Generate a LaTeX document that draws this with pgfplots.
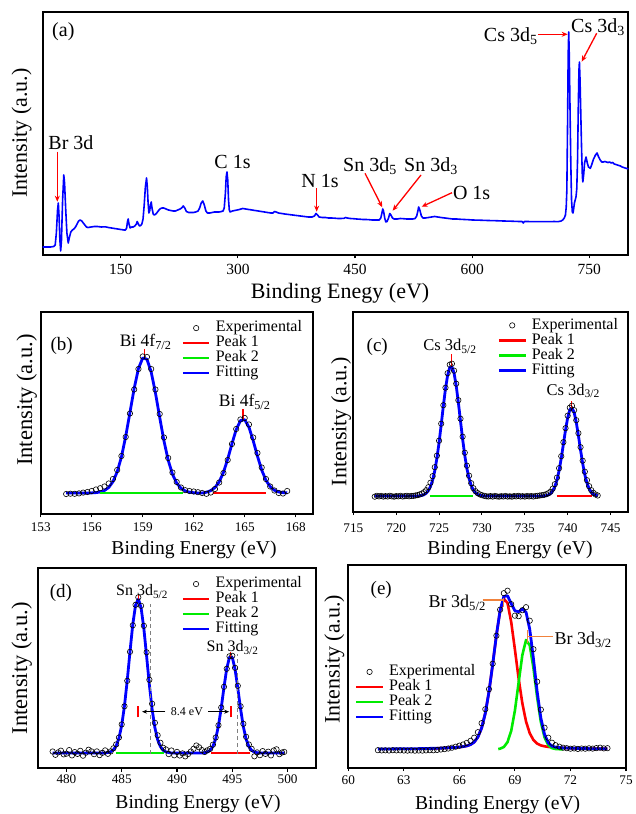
\documentclass[border=0pt]{standalone}
\usepackage{fontspec}
\setmainfont{Liberation Serif}
\usepackage{pgfplots}
\pgfplotsset{compat=1.18}
\usetikzlibrary{arrows.meta}
\definecolor{pred}{RGB}{255,0,0}
\definecolor{pgreen}{RGB}{0,235,0}
\definecolor{pblue}{RGB}{0,0,255}
\definecolor{porange}{RGB}{240,130,60}
\newcommand\fs[1]{\fontsize{#1}{#1}\selectfont}
\pgfplotsset{
 panel/.style={scale only axis, anchor=south west, clip=false, ymin=0,
   axis line style={line width=1.8pt}, ytick=\empty, xtick pos=left, tick align=outside,
   major tick length=3.5pt, every tick/.style={black, line width=1.1pt},
   /pgf/number format/assume math mode=true,
   xticklabel style={anchor=center},
   xlabel style={anchor=center}, ylabel style={anchor=center}},
 leg/.style={legend cell align=left,
   legend style={draw=none, fill=none, inner sep=0pt, outer sep=0pt, anchor=north west,
     font=\fs{16}, row sep=0pt,
     nodes={inner sep=0pt, text height=11.4pt, text depth=3.6pt},
     /tikz/every odd column/.style={column sep=5pt}},
   legend image code/.code={\draw[mark repeat=2,mark phase=2,##1] plot coordinates {(0pt,0pt) (13.3pt,0pt) (26.6pt,0pt)};}},
 expt/.style={only marks, mark=o, mark size=2.7pt, black, mark options={line width=0.6pt}},
 fitline/.style={pblue, line width=2.8pt, line join=round},
}
\newcommand\stdlegend{%
 \addlegendimage{expt}\addlegendentry{Experimental}
 \addlegendimage{pred, line width=2.6pt}\addlegendentry{Peak 1}
 \addlegendimage{pgreen, line width=2.6pt}\addlegendentry{Peak 2}
 \addlegendimage{pblue, line width=2.6pt}\addlegendentry{Fitting}}
\begin{document}
\begin{tikzpicture}
\path[use as bounding box] (0,0) rectangle (636pt,814pt);
% ---------------- (a)
\begin{axis}[panel, at={(42.7pt,559pt)}, width=585.6pt, height=243.3pt,
  xmin=50, xmax=800, ymax=243.3, xtick={150,300,450,600,750},
  xticklabel style={font=\fs{15.5}, yshift=-11pt},
  xlabel={Binding Enegy (eV)}, xlabel style={at={(axis description cs:0.5077,-0.156)}, font=\fs{22}},
  ylabel={Intensity (a.u.)}, ylabel style={at={(axis description cs:-0.0359,0.5014)}, font=\fs{22}}]
\addplot[pblue, line width=1.6pt, line join=round] coordinates {
(50,8)(55,8)(60,8)(64,8.5)(66,10)(67.5,22)(69,45)(70,52)(71,38)(72,15)(73,4)(74,14)(75.5,55)(77,80)(78,72)(79.5,45)(81,22)(82.7,12)(84,17)(86,23)(88,25)(90,26)(92,28)(94,31)(96,34)(98,35)(100,34)(102,32)(104,30)(106,28)(108,27.5)(112,28)(116,28.5)(120,28.5)(125,28)(130,28.2)(134,27.5)(138,27)(142,26.5)(146,26)(150,25.5)(154,25)(156,25)(157.5,27)(158.5,33)(159.5,36)(160.5,31)(162,27)(164,28)(166,28)(168,29)(170,31)(171,33.5)(172.5,31)(174,29)(175.5,29.5)(177,31)(178.5,36)(180,50)(181.5,68)(183,77)(184,68)(185,52)(186,42)(187,44)(188,50)(189,53)(190,47)(191.5,41)(193,40)(195,41)(197,43)(199,45)(201,46.5)(203,47)(205,47)(208,46)(211,45)(214,44.5)(217,44)(220,44)(223,45)(226,46)(228,47)(230,49)(232,47)(234,43.5)(237,42.5)(240,42.5)(243,42.5)(246,43)(249,44)(251,47)(253,52)(255,54)(257,50)(259,44)(261,42)(264,42)(267,42.5)(270,43)(273,43)(276,43)(279,43.5)(281,44)(282.5,47)(284,62)(285,78)(286,83)(287,75)(288,55)(289,45)(290,43)(293,44)(296,44.5)(299,45)(302,45.5)(306,46.5)(310,46)(314,45.5)(318,45)(322,44.5)(326,44)(330,43.5)(334,43)(338,42.5)(342,42)(345,42)(347,43.5)(349,43)(352,42)(356,41.5)(360,41)(365,40.5)(370,40)(375,39.5)(380,39)(385,38.5)(390,38)(395,38)(398,39)(400,41.5)(402,40)(404,38)(408,37.5)(412,37.5)(416,37)(420,37)(424,36.8)(428,36.5)(432,36.5)(436,36.7)(438,37.5)(440,37)(444,36.5)(448,36.3)(452,36)(456,35.8)(460,35.5)(464,35.5)(468,35.3)(472,35)(476,35)(479,35)(481,35)(483,37)(484.5,42)(485.5,46)(486.5,44)(488,37)(489.5,33)(491,33.5)(493,37)(494.5,41.5)(496,40)(498,37)(500,36)(504,36)(508,36.5)(512,36.3)(516,36)(520,36)(524,36)(527,36.5)(529,39)(530.5,44)(531.5,48)(533,45)(535,39)(537,37)(540,37)(544,37.5)(548,38)(552,38.5)(556,38)(560,37.5)(565,37)(570,36.5)(575,36)(580,36)(585,35.7)(590,35.5)(595,35.3)(600,35)(610,34.8)(620,34.5)(630,34.3)(640,34)(650,33.8)(660,33.5)(664,33.5)(665.5,32)(667,33.5)(670,33.5)(680,33.3)(690,33.3)(700,33.3)(705,33.5)(710,33.3)(714,34)(716,35)(718,37)(719.5,40)(720.5,48)(721.3,65)(722.2,130)(723,200)(723.7,223)(724.4,200)(725.3,150)(726.3,95)(727.3,55)(728.3,43)(729.2,42)(730,46)(731,52)(732,55)(733,58)(734,66)(735,95)(736,150)(736.8,185)(737.4,193)(738.2,175)(739.2,140)(740.2,105)(741.2,78)(741.8,73)(742.8,80)(744,92)(745.9,98)(747.5,92)(749,88)(751.4,86.7)(753,90)(755.5,96)(758,100)(760,102)(762,98)(764,95)(766,93)(768,93)(770,93.5)(772,93)(774,92.5)(776,93)(778,92)(780,92.5)(782,91)(784,90.5)(786,90)(788,89.5)(790,89)(792,88)(794,87.5)(796,87)(798,86.5)(800,86)};
\begin{scope}[font=\fs{20}]
\node[anchor=base] at (axis cs:76.4,218) {(a)};
\node[anchor=base] at (axis cs:86.2,105.4) {Br 3d};
\node[anchor=base] at (axis cs:293.1,86.7) {C 1s};
\node[anchor=base] at (axis cs:405.1,67.4) {N 1s};
\node[anchor=base] at (axis cs:469.2,83.4) {Sn 3d\textsubscript{5}};
\node[anchor=base] at (axis cs:547.3,83.4) {Sn 3d\textsubscript{3}};
\node[anchor=base] at (axis cs:599.4,55.7) {O 1s};
\node[anchor=base] at (axis cs:649.5,213.4) {Cs 3d\textsubscript{5}};
\node[anchor=base] at (axis cs:761.2,222.4) {Cs 3d\textsubscript{3}};
\end{scope}
\begin{scope}[pred, line width=1.3pt, -{Stealth[length=6pt,width=5pt]}]
\draw (axis cs:68.7,103.3) -- (axis cs:68.7,53.3);
\draw (axis cs:400.9,66.7) -- (axis cs:400.9,43.3);
\draw (axis cs:462.8,81.7) -- (axis cs:484.9,47.7);
\draw (axis cs:534.5,80) -- (axis cs:498.2,44.3);
\draw (axis cs:574.2,62.3) -- (axis cs:535.4,48.3);
\draw (axis cs:684.7,220.7) -- (axis cs:722.4,220.7);
\draw (axis cs:759.5,221.7) -- (axis cs:740.3,193.3);
\end{scope}
\end{axis}
% ---------------- (b)
\begin{axis}[panel, leg, at={(40.7pt,300pt)}, width=272pt, height=202.3pt,
  xmin=153, xmax=169, ymax=202.3, xtick={153,156,...,168},
  xticklabel style={font=\fs{13.2}, yshift=-9.3pt},
  xlabel={Binding Energy (eV)}, xlabel style={at={(axis description cs:0.5636,-0.178)}, font=\fs{19.6}},
  ylabel={Intensity (a.u.)}, ylabel style={at={(axis description cs:-0.0515,0.5635)}, font=\fs{22.5}},
  legend style={at={(0.518,0.956)}}]
\stdlegend
\addplot[expt, forget plot] coordinates {
(154.5,20.0)(154.75,20.3)(155.0,20.2)(155.25,20.6)(155.5,21.4)(155.75,22.0)(156.0,23.0)(156.25,24.5)(156.5,25.8)(156.75,27.5)(157.0,30.5)(157.25,35.0)(157.5,44.0)(157.75,58.0)(158.0,77.0)(158.25,100.5)(158.5,124.5)(158.75,145.0)(159.0,157.5)(159.25,157.0)(159.5,145.0)(159.75,124.5)(160.0,100.0)(160.25,76.5)(160.5,56.0)(160.75,41.5)(161.0,32.0)(161.25,26.5)(161.5,23.8)(161.75,23.0)(162.0,22.5)(162.25,21.8)(162.5,21.0)(162.75,20.2)(163.0,21.5)(163.25,25.0)(163.5,31.5)(163.75,41.0)(164.0,54.0)(164.25,70.0)(164.5,85.0)(164.75,94.5)(165.0,96.0)(165.25,89.5)(165.5,76.5)(165.75,61.0)(166.0,46.5)(166.25,35.0)(166.5,27.5)(166.75,23.5)(167.0,21.0)(167.25,20.5)(167.5,23.0)};
\addplot[fitline, forget plot] coordinates {
(154.5,21)(155.75,21)(156.0,21.1)(156.25,21.4)(156.5,22.0)(156.75,23.5)(157.0,26.5)(157.25,32.3)(157.5,42.2)(157.75,57.1)(158.0,77.6)(158.25,101.5)(158.5,125.7)(158.75,145.4)(159.0,156.0)(159.25,154.8)(159.5,142.0)(159.75,121.1)(160.0,96.6)(160.25,73.1)(160.5,53.8)(160.75,39.8)(161.0,30.9)(161.25,25.8)(161.5,23.1)(161.75,21.8)(162.0,21.3)(162.25,21)(162.5,21)(162.75,21.8)(163.0,23.3)(163.25,26.4)(163.5,32.2)(163.75,41.6)(164.0,54.9)(164.25,70.2)(164.5,84.4)(164.75,93.4)(165.0,94.3)(165.25,86.8)(165.5,73.3)(165.75,57.9)(166.0,44.0)(166.25,33.7)(166.5,27.3)(166.75,23.7)(167.0,22.0)(167.25,21.4)(167.5,21.1)};
\addplot[pgreen, line width=2.6pt, forget plot] coordinates {(156.48,21)(161.38,21)};
\addplot[pred, line width=2.6pt, forget plot] coordinates {(163.14,21)(166.28,21)};
\draw[pred, line width=1.1pt] (axis cs:159.1,156) -- (axis cs:159.1,165);
\draw[pred, line width=1.1pt] (axis cs:164.9,95) -- (axis cs:164.9,105);
\node[anchor=base, font=\fs{17.5}] at (axis cs:159.17,167) {Bi 4f\textsubscript{7/2}};
\node[anchor=base, font=\fs{17.5}] at (axis cs:165.0,107.5) {Bi 4f\textsubscript{5/2}};
\node[anchor=base, font=\fs{19}] at (axis cs:154.23,163.5) {(b)};
\end{axis}
% ---------------- (c)
\begin{axis}[panel, leg, at={(353.3pt,302.3pt)}, width=274.4pt, height=200pt,
  xmin=715, xmax=747, ymax=200, xtick={715,720,...,745},
  xticklabel style={font=\fs{13.2}, yshift=-12.6pt},
  xlabel={Binding Energy (eV)}, xlabel style={at={(axis description cs:0.571,-0.1915)}, font=\fs{19.6}},
  ylabel={Intensity (a.u.)}, ylabel style={at={(axis description cs:-0.0448,0.45)}, font=\fs{22}},
  legend style={at={(0.526,0.969)}}]
\stdlegend
\addplot[expt, forget plot] coordinates {
(717.5,15.0)(717.75,15.9)(718.0,15.3)(718.25,15.8)(718.5,15.1)(718.75,15.6)(719.0,15.2)(719.25,15.9)(719.5,15.4)(719.75,15.0)(720.0,15.6)(720.25,15.3)(720.5,15.8)(720.75,15.2)(721.0,15.5)(721.25,15.9)(721.5,15.4)(721.75,15.7)(722.0,15.8)(722.25,16.2)(722.5,16.6)(722.75,17.3)(723.0,18.2)(723.25,19.5)(723.5,21.5)(723.75,24.5)(724.0,29.0)(724.25,35.5)(724.5,44.5)(724.75,56.0)(725.0,71.0)(725.25,88.0)(725.5,106.5)(725.75,124.0)(726.0,138.5)(726.25,147.0)(726.5,148.0)(726.75,141.0)(727.0,128.0)(727.25,111.5)(727.5,93.0)(727.75,75.0)(728.0,59.0)(728.25,46.0)(728.5,36.0)(728.75,28.5)(729.0,23.5)(729.25,20.5)(729.5,18.6)(729.75,17.3)(730.0,16.5)(730.25,15.9)(730.5,15.4)(730.75,15.2)(731.0,15.6)(731.25,15.1)(731.5,15.7)(731.75,15.3)(732.0,15.0)(732.25,15.5)(732.5,15.2)(732.75,15.7)(733.0,15.1)(733.25,15.4)(733.5,15.0)(733.75,15.6)(734.0,15.3)(734.25,15.8)(734.5,15.2)(734.75,15.5)(735.0,15.1)(735.25,15.7)(735.5,15.3)(735.75,15.6)(736.0,15.2)(736.25,15.7)(736.5,15.9)(736.75,16.2)(737.0,16.5)(737.25,16.9)(737.5,17.5)(737.75,18.5)(738.0,20.0)(738.25,23.0)(738.5,27.5)(738.75,34.0)(739.0,43.5)(739.25,55.5)(739.5,69.5)(739.75,83.5)(740.0,96.0)(740.25,104.0)(740.5,106.0)(740.75,101.5)(741.0,91.5)(741.25,78.5)(741.5,64.5)(741.75,51.0)(742.0,40.0)(742.25,31.5)(742.5,25.5)(742.75,21.5)(743.0,18.8)(743.25,17.2)(743.5,16.2)};
\addplot[fitline, forget plot] coordinates {
(717.5,15.6)(722.5,15.6)(722.75,15.9)(723.0,16.3)(723.25,17.0)(723.5,18.5)(723.75,21.0)(724.0,25.1)(724.25,31.6)(724.5,40.9)(724.75,53.4)(725.0,69.0)(725.25,86.9)(725.5,105.7)(725.75,122.9)(726.0,136.5)(726.25,144.3)(726.5,145.0)(726.75,138.6)(727.0,126.0)(727.25,109.3)(727.5,90.7)(727.75,72.5)(728.0,56.3)(728.25,43.1)(728.5,33.2)(728.75,26.2)(729.0,21.7)(729.25,18.9)(729.5,17.3)(729.75,16.4)(730.0,16.0)(730.25,15.8)(730.5,15.6)(736.75,15.6)(737.0,15.7)(737.25,15.8)(737.5,16.1)(737.75,16.8)(738.0,18.1)(738.25,20.7)(738.5,25.0)(738.75,31.6)(739.0,41.1)(739.25,53.4)(739.5,67.5)(739.75,81.8)(740.0,94.0)(740.25,101.9)(740.5,103.9)(740.75,99.4)(741.0,89.5)(741.25,76.2)(741.5,61.7)(741.75,48.2)(742.0,37.0)(742.25,28.6)(742.5,23.0)(742.75,19.5)(743.0,17.5)(743.25,16.5)(743.5,16.0)};
\addplot[pgreen, line width=2.6pt, forget plot] coordinates {(723.9,15.6)(729.0,15.6)};
\addplot[pred, line width=2.6pt, forget plot] coordinates {(738.7,15.6)(742.8,15.6)};
\draw[pred, line width=1.1pt] (axis cs:726.4,145.6) -- (axis cs:726.4,157.3);
\draw[pred, line width=1.1pt] (axis cs:740.45,104) -- (axis cs:740.45,111);
\node[anchor=base, font=\fs{16.5}] at (axis cs:726.27,161) {Cs 3d\textsubscript{5/2}};
\node[anchor=base, font=\fs{16.5}] at (axis cs:740.65,116.3) {Cs 3d\textsubscript{3/2}};
\node[anchor=base, font=\fs{19}] at (axis cs:717.79,160.6) {(c)};
\end{axis}
% ---------------- (d)
\begin{axis}[panel, leg, at={(37.7pt,45.7pt)}, width=278.6pt, height=200pt,
  xmin=477.4, xmax=502.6, ymax=200, xtick={480,485,...,500},
  xticklabel style={font=\fs{13.2}, yshift=-7.6pt},
  xlabel={Binding Energy (eV)}, xlabel style={at={(axis description cs:0.5754,-0.18)}, font=\fs{19.6}},
  ylabel={Intensity (a.u.)}, ylabel style={at={(axis description cs:-0.0574,0.5)}, font=\fs{22.5}},
  legend style={at={(0.516,0.9587)}}]
\stdlegend
\addplot[expt, forget plot] coordinates {
(478.75,16.8)(479.0,13.5)(479.25,15.9)(479.5,17.6)(479.75,13.9)(480.0,14.6)(480.25,18.2)(480.5,12.9)(480.75,16.2)(481.0,14.4)(481.25,17.5)(481.5,12.6)(481.75,15.6)(482.0,18.6)(482.25,17.0)(482.5,14.1)(482.75,16.9)(483.0,13.2)(483.25,15.5)(483.5,17.9)(483.75,14.5)(484.0,16.9)(484.25,20.0)(484.5,23.9)(484.75,30.8)(485.0,43.9)(485.25,62.0)(485.5,87.5)(485.75,116.5)(486.0,143.0)(486.25,163.5)(486.5,171.0)(486.75,162.5)(487.0,142.5)(487.25,116.0)(487.5,88.5)(487.75,64.5)(488.0,45.5)(488.25,33.0)(488.5,25.5)(488.75,20.5)(489.0,18.9)(489.25,14.2)(489.5,17.8)(489.75,13.0)(490.0,16.4)(490.25,12.8)(490.5,14.9)(490.75,11.9)(491.0,14.2)(491.25,16.8)(491.5,19.5)(491.75,22.8)(492.0,21.0)(492.25,18.2)(492.5,16.3)(492.75,18.0)(493.0,19.4)(493.25,23.6)(493.5,30.8)(493.75,43.0)(494.0,60.8)(494.25,81.5)(494.5,99.5)(494.75,112.0)(495.0,112.5)(495.25,100.5)(495.5,82.5)(495.75,62.0)(496.0,44.5)(496.25,31.5)(496.5,23.8)(496.75,19.5)(497.0,12.0)(497.25,15.9)(497.5,13.1)(497.75,17.2)(498.0,14.4)(498.25,16.6)(498.5,12.9)(498.75,17.8)(499.0,19.0)(499.25,14.1)(499.5,15.8)(499.7,16.4)};
\addplot[fitline, forget plot] coordinates {
(478.75,15.3)(483.5,15.3)(483.75,15.8)(484,16.6)(484.25,18.5)(484.5,22.5)(484.75,30.2)(485,43.1)(485.25,62.5)(485.5,88.0)(485.75,116.8)(486,143.9)(486.25,163.1)(486.5,169.3)(486.75,160.8)(487,140.0)(487.25,112.2)(487.5,83.6)(487.75,59.0)(488,40.6)(488.25,28.6)(488.5,21.7)(488.75,18.0)(489,16.4)(489.25,15.7)(489.5,15.3)(492.25,15.3)(492.5,15.6)(492.75,16.3)(493,18.0)(493.25,22.0)(493.5,29.6)(493.75,42.4)(494,60.3)(494.25,81.0)(494.5,99.9)(494.75,111.2)(495,110.9)(495.25,99.3)(495.5,80.2)(495.75,59.5)(496,41.7)(496.25,29.2)(496.5,21.8)(496.75,17.9)(497,16.3)(497.25,15.6)(497.5,15.3)(499.7,15.3)};
\addplot[pgreen, line width=2.6pt, forget plot] coordinates {(484.45,15.3)(488.8,15.3)};
\addplot[pred, line width=2.6pt, forget plot] coordinates {(493.1,15.3)(496.6,15.3)};
\draw[gray, line width=1.2pt, dash pattern=on 4pt off 3pt] (axis cs:487.6,14.3) -- (axis cs:487.6,164.3);
\draw[gray, line width=1.2pt, dash pattern=on 4pt off 3pt] (axis cs:495.47,14.3) -- (axis cs:495.47,114.3);
\draw[pred, line width=1.5pt] (axis cs:486.48,51) -- (axis cs:486.48,62.6);
\draw[pred, line width=1.5pt] (axis cs:494.87,51) -- (axis cs:494.87,62.6);
\draw[line width=0.8pt, -{Stealth[length=5pt,width=4pt]}] (axis cs:488.94,56.6) -- (axis cs:486.84,56.6);
\draw[line width=0.8pt, -{Stealth[length=5pt,width=4pt]}] (axis cs:492.83,56.6) -- (axis cs:494.72,56.6);
\node[font=\fs{12}] at (axis cs:490.9,56.6) {8.4 eV};
\draw[pred, line width=1.1pt] (axis cs:486.48,169.3) -- (axis cs:486.48,174);
\draw[pred, line width=1.1pt] (axis cs:494.87,110.6) -- (axis cs:494.87,116.3);
\node[anchor=base, font=\fs{16}] at (axis cs:486.84,172.3) {Sn 3d\textsubscript{5/2}};
\node[anchor=base, font=\fs{16}] at (axis cs:495.02,116.7) {Sn 3d\textsubscript{3/2}};
\node[anchor=base, font=\fs{19}] at (axis cs:479.5,171) {(d)};
\end{axis}
% ---------------- (e)
\begin{axis}[panel, leg, at={(348.3pt,46.3pt)}, width=277.7pt, height=202.7pt,
  xmin=60, xmax=75, ymax=202.7, xtick={60,63,...,75},
  xticklabel style={font=\fs{13.2}, yshift=-8.6pt},
  xlabel={Binding Energy (eV)}, xlabel style={at={(axis description cs:0.538,-0.184)}, font=\fs{19.6}},
  ylabel={Intensity (a.u.)}, ylabel style={at={(axis description cs:-0.0504,0.535)}, font=\fs{22}},
  legend style={at={(0.024,0.5096)}}]
\stdlegend
\addplot[expt, forget plot] coordinates {
(61.6,17.5)(61.8,17.3)(62.0,17.4)(62.2,17.2)(62.4,17.5)(62.6,17.3)(62.8,17.4)(63.0,17.2)(63.2,17.1)(63.4,17.3)(63.6,17.0)(63.8,17.2)(64.0,17.1)(64.2,17.3)(64.4,17.5)(64.6,17.4)(64.8,17.8)(65.0,18.2)(65.2,18.6)(65.4,19.2)(65.6,20.0)(65.8,21.0)(66.0,22.0)(66.2,23.2)(66.4,24.8)(66.6,26.8)(66.8,30.0)(67.0,35.5)(67.2,44.5)(67.4,58.5)(67.6,78.5)(67.8,104.0)(68.0,132.0)(68.2,158.0)(68.4,174.5)(68.6,177.0)(68.8,163.5)(69.0,152.0)(69.2,151.5)(69.4,157.5)(69.6,160.5)(69.8,147.0)(70.0,118.5)(70.2,86.0)(70.4,58.0)(70.6,40.0)(70.8,30.0)(71.0,25.0)(71.2,22.5)(71.4,21.0)(71.6,20.0)(71.8,19.5)(72.0,19.0)(72.2,19.3)(72.4,18.8)(72.6,19.2)(72.8,19.0)(73.0,19.4)(73.2,19.1)(73.4,19.6)(73.6,20.0)(73.8,19.3)(74.0,19.5)};
\addplot[pred, line width=2.6pt, line join=round, forget plot] coordinates {
(64.0,19.1)(64.4,19.3)(64.8,19.4)(65.2,19.7)(65.6,20.1)(65.8,20.3)(66.0,20.6)(66.2,21.1)(66.4,21.8)(66.6,23.1)(66.8,25.6)(67.0,30.6)(67.2,39.6)(67.4,54.4)(67.6,76.1)(67.8,103.4)(68.0,132.5)(68.2,156.7)(68.4,168.9)(68.6,164.7)(68.8,145.6)(69.0,118.1)(69.2,89.2)(69.4,64.5)(69.6,46.2)(69.8,34.5)(70.0,27.7)(70.2,24.1)(70.4,22.3)(70.6,21.4)(70.8,20.8)(71.0,20.4)(71.2,20.2)(71.4,20.0)(71.6,19.8)(71.8,19.6)(72.0,19.5)(72.4,19.3)(72.8,19.1)(73.2,19.0)(73.6,18.9)(74.0,18.9)};
\addplot[pgreen, line width=2.6pt, line join=round, forget plot] coordinates {
(68.1,18.7)(68.2,19.0)(68.4,20.7)(68.6,25.6)(68.8,36.9)(69.0,57.2)(69.2,85.1)(69.4,112.6)(69.6,127.7)(69.8,122.4)(70.0,99.7)(70.2,70.5)(70.4,45.8)(70.6,30.3)(70.8,22.6)(71.0,19.6)(71.2,18.7)(71.4,18.5)(71.6,18.4)};
\addplot[fitline, forget plot] coordinates {
(61.6,18.7)(62.0,18.7)(62.4,18.8)(62.8,18.9)(63.2,18.9)(63.6,19.0)(64.0,19.1)(64.4,19.3)(64.8,19.4)(65.2,19.7)(65.6,20.1)(65.8,20.3)(66.0,20.6)(66.2,21.1)(66.4,21.8)(66.6,23.1)(66.8,25.6)(67.0,30.6)(67.2,39.6)(67.4,54.4)(67.6,76.1)(67.8,103.4)(68.0,132.6)(68.2,157.3)(68.4,171.2)(68.6,171.9)(68.8,164.1)(69.0,156.9)(69.2,155.9)(69.4,158.7)(69.6,155.5)(69.8,138.5)(70.0,109.0)(70.2,76.2)(70.4,49.7)(70.6,33.3)(70.8,25.0)(71.0,21.6)(71.2,20.5)(71.4,20.1)(71.6,19.8)(72.0,19.5)(72.4,19.3)(72.8,19.1)(73.2,19.0)(73.6,18.9)(74.0,18.9)};
\draw[porange, line width=1.3pt] (axis cs:67.26,167.7) -- (axis cs:68.37,167.7);
\draw[porange, line width=1.1pt] (axis cs:68.37,161) -- (axis cs:68.37,169.4);
\draw[porange, line width=1.3pt] (axis cs:69.69,131) -- (axis cs:71.07,131);
\draw[porange, line width=1.1pt] (axis cs:69.69,124.4) -- (axis cs:69.69,137.7);
\node[anchor=base east, font=\fs{18}, inner sep=0pt] at (axis cs:67.44,160.2) {Br 3d\textsubscript{5/2}};
\node[anchor=base west, font=\fs{18}, inner sep=0pt] at (axis cs:71.13,122.7) {Br 3d\textsubscript{3/2}};
\node[anchor=base, font=\fs{19}] at (axis cs:61.78,172.7) {(e)};
\end{axis}
\end{tikzpicture}
\end{document}
